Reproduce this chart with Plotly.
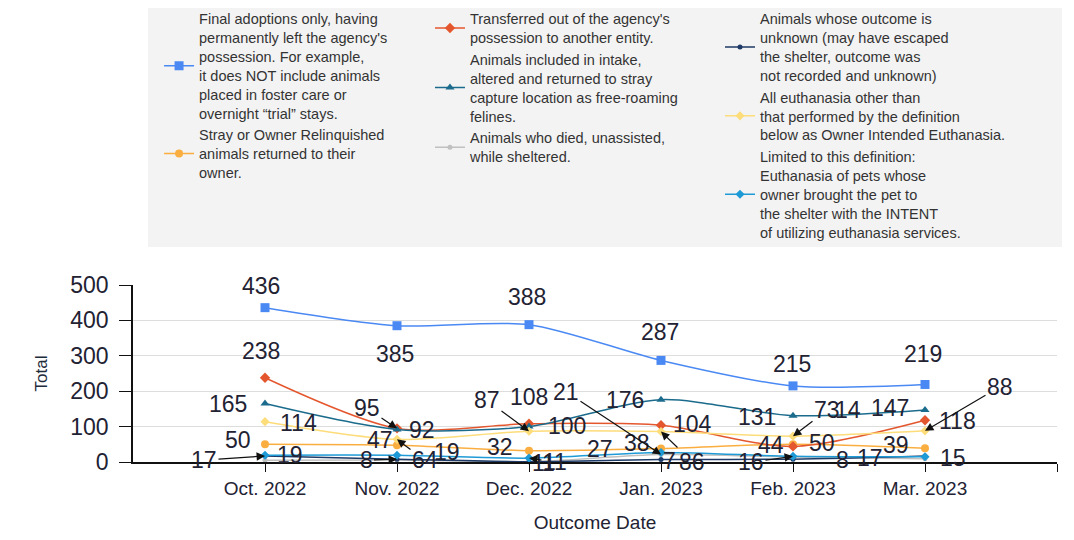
import plotly.graph_objects as go

months = ["Oct. 2022", "Nov. 2022", "Dec. 2022", "Jan. 2023", "Feb. 2023", "Mar. 2023"]

adoption = [436, 385, 388, 287, 215, 219]
transfer = [238, 95, 108, 104, 44, 118]
return_to_field = [165, 92, 100, 176, 131, 147]
died = [5, 6, 1, 21, 14, 9]
return_to_owner = [50, 47, 32, 38, 50, 39]
unknown = [17, 8, 1, 7, 8, 17]
euthanasia = [114, 64, 87, 86, 73, 88]
owner_intended = [19, 19, 11, 27, 16, 15]

names = {
    "adoption": "Final adoptions only, having<br>permanently left the agency's<br>possession. For example,<br>it does NOT include animals<br>placed in foster care or<br>overnight \u201ctrial\u201d stays.",
    "rto": "Stray or Owner Relinquished<br>animals returned to their<br>owner.",
    "transfer": "Transferred out of the agency's<br>possession to another entity.",
    "rtf": "Animals included in intake,<br>altered and returned to stray<br>capture location as free-roaming<br>felines.",
    "died": "Animals who died, unassisted,<br>while sheltered.",
    "unknown": "Animals whose outcome is<br>unknown (may have escaped<br>the shelter, outcome was<br>not recorded and unknown)",
    "euth": "All euthanasia other than<br>that performed by the definition<br>below as Owner Intended Euthanasia.",
    "oie": "Limited to this definition:<br>Euthanasia of pets whose<br>owner brought the pet to<br>the shelter with the INTENT<br>of utilizing euthanasia services.",
}

x_idx = list(range(len(months)))

# (key, values, color, symbol, size, legend)
series = [
    ("adoption", adoption, "#4a89f3", "square", 9, "legend"),
    ("rto", return_to_owner, "#fbae40", "circle", 8, "legend"),
    ("transfer", transfer, "#e4572e", "diamond", 8, "legend2"),
    ("rtf", return_to_field, "#1b6b8c", "triangle-up", 8, "legend2"),
    ("died", died, "#c0c0c0", "circle", 5, "legend2"),
    ("unknown", unknown, "#1e3a66", "circle", 5, "legend3"),
    ("euth", euthanasia, "#fddc7a", "diamond", 7, "legend3"),
    ("oie", owner_intended, "#1e9ad6", "diamond", 7, "legend3"),
]

# label placement: ("s", xshift, yshift) or ("a", ax, ay) or None
label_pos = {
    "adoption": [("s", -4, 22), ("s", -2, -28), ("s", -2, 28), ("s", -1, 28), ("s", -1, 22), ("s", -2, 30)],
    "transfer": [("s", -4, 27), ("a", -30, -20), ("s", 0, 27), ("s", 31, 1), ("s", -22, 1), ("s", 32, -1)],
    "rtf": [("s", -37, 0), ("s", 25, -1), ("s", 38, 1), ("s", -36, 0), ("s", -36, -1), ("s", -35, 2)],
    "died": [None, None, ("s", 19, -1), ("a", -95, -63), ("s", 55, 47), None],
    "rto": [("s", -27, 4), ("s", -17, 5), ("s", -29, 4), ("s", -24, 6), ("s", 29, 1), ("s", -29, 3)],
    "unknown": [("a", -61, 4), ("a", -31, 1), ("s", 9, -1), ("s", 8, -1), ("s", 49, -1), ("s", -55, -2)],
    "euth": [("s", 33, -1), ("a", 28, 21), ("a", -42, -31), ("a", 31, 30), ("a", 34, -26), ("a", 75, -44)],
    "oie": [("s", 25, 0), ("s", 50, 3), ("a", 26, 4), ("s", -61, 3), ("a", -42, 6), ("s", 28, -1)],
}

fig = go.Figure()
annotations = []
label_font = dict(family="Liberation Sans, Arial, sans-serif", size=23, color="#222233")

for key, vals, color, symbol, size, leg in series:
    fig.add_trace(go.Scatter(
        x=x_idx, y=vals, name=names[key], mode="lines+markers",
        line=dict(color=color, width=1.5, shape="spline", smoothing=0.8),
        marker=dict(color=color, symbol=symbol, size=size),
        legend=leg, cliponaxis=False,
    ))
    for i, v in enumerate(vals):
        p = label_pos[key][i]
        if p is None:
            continue
        if p[0] == "s":
            annotations.append(dict(x=x_idx[i], y=v, xref="x", yref="y", text=str(v),
                                    showarrow=False, xshift=p[1], yshift=p[2], font=label_font))
        else:
            annotations.append(dict(x=x_idx[i], y=v, xref="x", yref="y", text=str(v),
                                    showarrow=True, ax=p[1], ay=p[2], arrowhead=2, arrowsize=1.4,
                                    arrowwidth=1.2, arrowcolor="#111111", standoff=0, font=label_font))

leg_font = dict(family="Liberation Sans, Arial, sans-serif", size=14.5, color="#333333")
leg_common = dict(orientation="v", xanchor="left", yanchor="top", bgcolor="rgba(0,0,0,0)",
                  borderwidth=0, font=leg_font, tracegroupgap=0, itemwidth=30)

fig.update_layout(
    width=1066, height=532,
    margin=dict(l=125, r=17, t=277, b=78, autoexpand=False),
    paper_bgcolor="white", plot_bgcolor="white",
    annotations=annotations,
    legend=dict(x=0.0282, y=2.595, **leg_common),
    legend2=dict(x=0.3214, y=2.595, **leg_common),
    legend3=dict(x=0.6353, y=2.595, **leg_common),
    shapes=[dict(type="rect", xref="paper", yref="paper", x0=0.0162, x1=1.0054, y0=1.2147, y1=2.599,
                 fillcolor="#f3f3f3", line=dict(width=0), layer="below")],
    xaxis=dict(
        range=[-1, 6], tickvals=list(range(7)), ticktext=months + [""],
        showgrid=False, zeroline=False, showline=True, linecolor="#111111", linewidth=1.5,
        ticks="outside", ticklen=8, tickcolor="#111111",
        tickfont=dict(family="Liberation Sans, Arial, sans-serif", size=19, color="#222233"),
        title=dict(text="Outcome Date", standoff=18,
                   font=dict(family="Liberation Sans, Arial, sans-serif", size=19, color="#222233")),
    ),
    yaxis=dict(
        range=[0, 500], dtick=100, showgrid=True, gridcolor="#dddddd", gridwidth=1,
        zeroline=False, showline=True, linecolor="#111111", linewidth=1.5,
        ticks="outside", ticklen=12, tickcolor="#111111", ticklabelstandoff=6,
        tickfont=dict(family="Liberation Sans, Arial, sans-serif", size=23, color="#222233"),
        title=dict(text="Total", standoff=18,
                   font=dict(family="Liberation Sans, Arial, sans-serif", size=17, color="#1d2b3a")),
    ),
)

fig.write_html("out.html")
